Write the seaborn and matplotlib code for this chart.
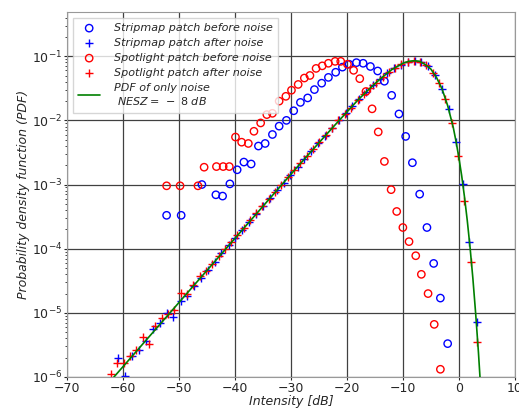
import numpy as np
import matplotlib
matplotlib.use('Agg')
import matplotlib.pyplot as plt
import seaborn as sns

### data (y given as log10 of the PDF, read on the log axis)

# stripmap patch before noise
strip_before_db = [-52.2, -49.6, -45.9, -43.4, -42.2, -40.9, -39.6, -38.4, -37.1, -35.8,
                   -34.6, -33.3, -32.1, -30.8, -29.5, -28.3, -27.0, -25.8, -24.5, -23.3,
                   -22.0, -20.8, -19.6, -18.3, -17.1, -15.8, -14.5, -13.3, -12.0, -10.7,
                   -9.5, -8.3, -7.0, -5.7, -4.5, -3.3, -2.0]
strip_before_log = [-3.48, -3.48, -3.00, -3.16, -3.18, -2.99, -2.77, -2.65, -2.68, -2.40,
                    -2.36, -2.22, -2.09, -2.00, -1.85, -1.72, -1.65, -1.52, -1.42, -1.33,
                    -1.25, -1.17, -1.125, -1.10, -1.11, -1.16, -1.23, -1.39, -1.61, -1.90,
                    -2.25, -2.66, -3.15, -3.67, -4.23, -4.77, -5.48]

# stripmap patch after noise
strip_after_db = [-60.8, -59.6, -58.3, -57.1, -55.9, -54.7, -53.4, -52.2, -51.0, -49.7,
                  -48.5, -47.3, -46.0, -44.8, -43.6, -42.4, -41.1, -39.9, -38.7, -37.4,
                  -36.2, -35.0, -33.7, -32.5, -31.3, -30.1, -28.8, -27.6, -26.4, -25.1,
                  -23.9, -22.7, -21.4, -20.2, -19.0, -17.8, -16.5, -15.3, -14.1, -12.8,
                  -11.6, -10.4, -9.1, -7.9, -6.7, -5.5, -4.2, -3.0, -1.8, -0.5,
                  0.7, 1.9, 3.2]
strip_after_log = [-5.70, -5.99, -5.68, -5.58, -5.44, -5.25, -5.16, -5.00, -5.06, -4.81,
                   -4.74, -4.58, -4.45, -4.33, -4.20, -4.07, -3.95, -3.83, -3.71, -3.58,
                   -3.46, -3.34, -3.21, -3.09, -2.97, -2.85, -2.72, -2.60, -2.48, -2.36,
                   -2.24, -2.12, -2.00, -1.88, -1.77, -1.66, -1.55, -1.45, -1.35, -1.26,
                   -1.19, -1.13, -1.09, -1.07, -1.09, -1.16, -1.30, -1.51, -1.83, -2.33,
                   -2.99, -3.89, -5.15]

# spotlight patch before noise
spot_before_db = [-52.2, -49.8, -46.6, -45.5, -43.3, -42.1, -41.0, -39.9, -38.8, -37.6,
                  -36.6, -35.4, -34.3, -33.3, -32.1, -30.9, -29.9, -28.7, -27.6, -26.6,
                  -25.5, -24.4, -23.3, -22.1, -21.1, -19.9, -18.8, -17.7, -16.6, -15.5,
                  -14.4, -13.3, -12.1, -11.1, -10.0, -8.9, -7.7, -6.7, -5.5, -4.4, -3.3]
spot_before_log = [-3.02, -3.02, -3.02, -2.73, -2.72, -2.72, -2.72, -2.26, -2.34, -2.36,
                   -2.17, -2.04, -1.91, -1.89, -1.70, -1.625, -1.53, -1.44, -1.34, -1.30,
                   -1.19, -1.15, -1.11, -1.08, -1.08, -1.125, -1.22, -1.35, -1.55, -1.82,
                   -2.18, -2.64, -3.08, -3.42, -3.67, -3.89, -4.11, -4.40, -4.70, -5.18, -5.88]

# spotlight patch after noise
spot_after_db = [-62.1, -61.0, -59.8, -58.7, -57.6, -56.5, -55.3, -54.2, -53.1, -52.0,
                 -50.8, -49.7, -48.6, -47.4, -46.3, -45.2, -44.1, -42.9, -41.8, -40.7,
                 -39.6, -38.4, -37.3, -36.2, -35.1, -33.9, -32.8, -31.7, -30.5, -29.4,
                 -28.3, -27.2, -26.0, -24.9, -23.8, -22.7, -21.5, -20.4, -19.3, -18.1,
                 -17.0, -15.9, -14.8, -13.6, -12.5, -11.4, -10.3, -9.1, -8.0, -6.9,
                 -5.8, -4.6, -3.5, -2.4, -1.3, -0.1, 1.0, 2.1, 3.3]
spot_after_log = [-5.96, -5.78, -5.78, -5.68, -5.58, -5.37, -5.48, -5.20, -5.08, -5.02,
                  -4.96, -4.69, -4.70, -4.56, -4.42, -4.35, -4.24, -4.12, -4.01, -3.90,
                  -3.79, -3.67, -3.56, -3.45, -3.34, -3.22, -3.11, -3.00, -2.88, -2.77,
                  -2.67, -2.56, -2.44, -2.33, -2.23, -2.12, -2.00, -1.90, -1.80, -1.69,
                  -1.59, -1.50, -1.41, -1.32, -1.24, -1.18, -1.12, -1.09, -1.07, -1.09,
                  -1.14, -1.26, -1.42, -1.67, -2.04, -2.55, -3.26, -4.20, -5.45]

# PDF of only noise (green curve)
noise_db = [-62, -55, -50, -45, -40, -35, -30, -25, -22, -20, -18, -16, -14, -12,
            -10, -9, -8, -7, -6, -5, -4, -3, -2, -1, -0.5, 0, 0.5, 1, 1.5, 2,
            2.5, 3, 3.5, 4]
noise_log = [-6.04, -5.34, -4.84, -4.34, -3.84, -3.34, -2.84, -2.35, -2.06, -1.87,
             -1.68, -1.51, -1.35, -1.21, -1.11, -1.08, -1.07, -1.08, -1.13, -1.20,
             -1.33, -1.51, -1.77, -2.11, -2.33, -2.58, -2.86, -3.19, -3.56, -3.98,
             -4.46, -5.01, -5.62, -6.32]

labels = ['Stripmap patch before noise', 'Stripmap patch after noise',
          'Spotlight patch before noise', 'Spotlight patch after noise',
          'PDF of only noise\n $NESZ=\\,-\\ 8\\ dB$']

sns.set_style('white')

fig = plt.figure(figsize=(5.19, 4.12), dpi=100)
ax = fig.add_axes([0.129, 0.085, 0.863, 0.886])

ms = 28
sns.scatterplot(x=strip_before_db, y=10 ** np.array(strip_before_log), ax=ax,
                marker='o', s=ms, facecolors='none', edgecolor='b', linewidth=1.0,
                label=labels[0])
sns.scatterplot(x=strip_after_db, y=10 ** np.array(strip_after_log), ax=ax,
                marker='+', s=ms, color='b', linewidth=1.0, label=labels[1])
sns.scatterplot(x=spot_before_db, y=10 ** np.array(spot_before_log), ax=ax,
                marker='o', s=ms, facecolors='none', edgecolor='r', linewidth=1.0,
                label=labels[2])
sns.scatterplot(x=spot_after_db, y=10 ** np.array(spot_after_log), ax=ax,
                marker='+', s=ms, color='r', linewidth=1.0, label=labels[3])
sns.lineplot(x=noise_db, y=10 ** np.array(noise_log), ax=ax, color='g',
             linewidth=1.2, label=labels[4], zorder=5, sort=False)

ax.set_yscale('log')
ax.set_xlim(-70, 10)
ax.set_ylim(1e-6, 0.49)
ax.set_xticks(range(-70, 11, 10))
ax.grid(True, which='major', color='0.25', linewidth=0.9)
ax.tick_params(axis='both', labelsize=9, direction='out', length=2, pad=1.5,
               left=True, bottom=True)
ax.tick_params(axis='y', which='minor', left=True, length=1.5)
for s in ax.spines.values():
    s.set_color('0.6')

ax.set_xlabel('Intensity [dB]', fontsize=9, fontstyle='italic', labelpad=0)
ax.set_ylabel('Probability density function (PDF)', fontsize=9, fontstyle='italic', labelpad=1)

ax.legend(loc='upper left', prop={'size': 8, 'style': 'italic'}, borderpad=0.5,
          labelspacing=0.45, handletextpad=1.2, fancybox=False)

fig.savefig('out.png', dpi=100)
